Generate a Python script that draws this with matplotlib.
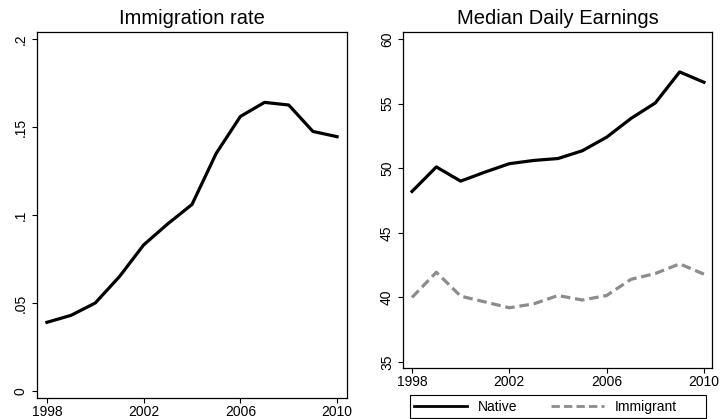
import matplotlib
matplotlib.use('Agg')
import matplotlib.pyplot as plt
from matplotlib.lines import Line2D
from matplotlib.patches import Rectangle

plt.rcParams['font.family'] = ['Liberation Sans', 'DejaVu Sans']

# 年ごとの系列
years = list(range(1998, 2011))
immig_rate = [0.039, 0.043, 0.050, 0.065, 0.083, 0.095, 0.106, 0.135, 0.156,
              0.164, 0.1625, 0.1475, 0.1445]
native_earn = [48.2, 50.1, 49.0, 49.7, 50.35, 50.6, 50.75, 51.35, 52.4,
               53.85, 55.05, 57.45, 56.65]
immig_earn = [40.0, 41.95, 40.1, 39.65, 39.2, 39.5, 40.15, 39.8, 40.15,
              41.4, 41.85, 42.6, 41.8]
xticks = [1998, 2002, 2006, 2010]

W, H = 721, 419
fig = plt.figure(figsize=(W / 100, H / 100), dpi=100)
ax1 = fig.add_axes([37 / W, 21 / H, 310 / W, 366 / H])
ax2 = fig.add_axes([403 / W, 51 / H, 309 / W, 336 / H])

gray = '#8c8c8c'
dash = (3, 1.5)

ax1.plot(years, immig_rate, color='black', lw=2.3)
ax1.set_xlim(1997.59, 2010.41)
ax1.set_ylim(-0.004, 0.204)
ax1.set_yticks([0, 0.05, 0.1, 0.15, 0.2])
ax1.set_yticklabels(['0', '.05', '.1', '.15', '.2'])
ax1.set_title('Immigration rate', fontsize=14.5, pad=6)

ax2.plot(years, native_earn, color='black', lw=2.3)
ax2.plot(years, immig_earn, color=gray, lw=2.3, dashes=dash)
ax2.set_xlim(1997.63, 2010.33)
ax2.set_ylim(34.54, 60.54)
ax2.set_yticks([35, 40, 45, 50, 55, 60])
ax2.set_title('Median Daily Earnings', fontsize=14.5, pad=6)

for ax in (ax1, ax2):
    ax.set_xticks(xticks)
    ax.tick_params(axis='both', labelsize=10, length=3.5, width=0.8,
                   direction='out', pad=1.5)
    ax.tick_params(axis='y', pad=3)
    for lab in ax.get_yticklabels():
        lab.set_rotation(90)
        lab.set_va('center')
    for s in ax.spines.values():
        s.set_linewidth(0.9)

# 凡例: 枠は右パネルの幅に合わせて別に描く
handles = [Line2D([], [], color='black', lw=2.0),
           Line2D([], [], color=gray, lw=2.0, dashes=dash)]
leg = fig.legend(handles, ['Native', 'Immigrant'], loc='center left',
                 bbox_to_anchor=(410 / W, 12.5 / H), ncol=2, fontsize=10,
                 frameon=False, handlelength=3.8, columnspacing=2.4,
                 borderpad=0.3, handletextpad=0.8, borderaxespad=0)
fig.patches.append(Rectangle((410 / W, 1.5 / H), 296 / W, 22.5 / H,
                             transform=fig.transFigure, fill=False,
                             edgecolor='black', lw=0.8))

fig.savefig('out.png', dpi=100)
